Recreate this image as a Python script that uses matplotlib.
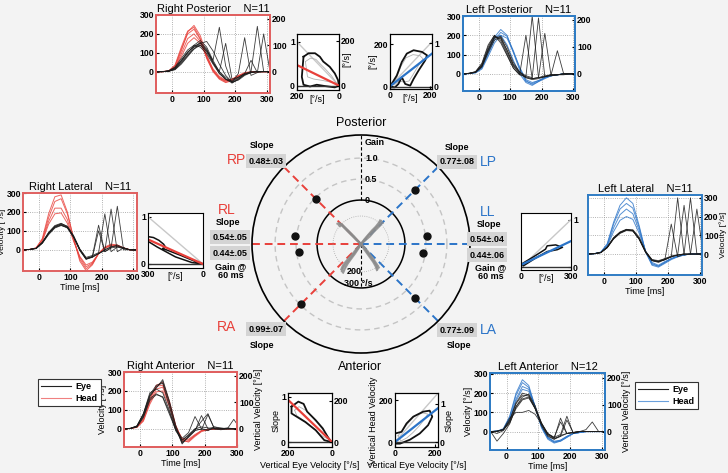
import numpy as np
import matplotlib.pyplot as plt
from matplotlib.lines import Line2D
import matplotlib.transforms as mtrans

W, H = 728, 473
plt.rcParams['font.family'] = ['Liberation Sans', 'DejaVu Sans']
plt.rcParams['font.size'] = 6.5
plt.rcParams['font.weight'] = 'bold'

RED = '#e8403a'
BLUE = '#2b74c8'
RFRAME = '#e06060'
BFRAME = '#2f7cc4'

# time axis of the velocity traces [ms]
t_ms = [-50, -30, -10, 10, 30, 50, 70, 90, 110, 130, 150, 170, 190, 210, 230, 250, 270, 290, 310]

rp_head = [
    [0, 0, 2, 25, 110, 210, 245, 190, 90, 10, -35, -55, -45, -25, -10, -3, 0, 0, 0],
    [0, 0, 3, 30, 120, 200, 225, 170, 80, 5, -35, -50, -40, -22, -8, -2, 0, 0, 0],
    [0, 0, 2, 20, 95, 175, 200, 160, 75, 5, -30, -48, -42, -25, -10, -3, 0, 0, 0],
    [0, 1, 4, 35, 130, 215, 235, 175, 70, 0, -40, -58, -48, -28, -10, -3, 0, 0, 0],
    [0, 0, 2, 20, 80, 150, 180, 150, 80, 15, -25, -45, -40, -20, -5, 0, 0, 0, 0],
]
rp_eye = [
    [0, 0, 3, 15, 55, 100, 140, 165, 130, 60, 0, -40, -60, -40, -15, -5, 0, 0, 0],
    [0, 0, 2, 10, 40, 80, 120, 150, 160, 110, 40, -20, -55, -45, -20, -5, 0, 0, 0],
    [0, 0, 5, 25, 70, 115, 140, 130, 95, 40, -10, -40, -50, -30, -10, 0, 0, 0, 0],
    [0, 0, 3, 15, 50, 90, 120, 140, 110, 60, 235, 30, -60, -40, -15, -5, 0, 0, 0],
    [0, 0, 2, 12, 45, 85, 130, 155, 120, 50, -10, -40, -55, -35, -15, 0, 240, 0, 0],
    [0, 0, 4, 20, 60, 100, 135, 150, 115, 50, 0, -30, -55, -10, 180, -20, -5, 0, 0],
    [0, 0, 3, 20, 60, 105, 130, 140, 105, 45, 0, 150, -40, -30, -10, 60, -5, 200, 0],
]
lp_head = [
    [0, 2, 8, 35, 110, 190, 230, 200, 110, 20, -40, -50, -35, -20, -10, -5, 0, 0, 0],
    [0, 2, 6, 30, 100, 175, 215, 195, 120, 30, -35, -55, -40, -20, -10, -5, 0, 0, 0],
    [0, 2, 8, 40, 120, 190, 200, 150, 70, 0, -45, -60, -40, -25, -10, -5, 0, 0, 0],
    [0, 1, 5, 25, 90, 160, 200, 185, 115, 35, -30, -45, -35, -20, -10, -5, 0, 0, 0],
]
lp_eye = [
    [0, 3, 10, 45, 130, 195, 180, 110, 40, 0, -20, -30, -25, -15, -10, -5, -5, 0, 0],
    [0, 2, 8, 40, 120, 185, 195, 140, 60, 10, -20, -25, -20, -15, -5, -5, 0, 0, 0],
    [0, 3, 10, 50, 140, 200, 170, 100, 30, -5, -15, 300, -20, -10, -5, -5, 0, 0, 0],
    [0, 2, 8, 35, 110, 175, 190, 120, 50, 10, -10, -20, 290, -15, -5, -5, 0, 0, 0],
    [0, 3, 12, 55, 150, 200, 160, 95, 30, -5, 200, -25, -20, -15, -5, 120, 0, 0, 0],
    [0, 2, 8, 40, 125, 190, 185, 125, 45, 5, -15, -25, -20, 210, -10, -5, 0, 0, 0],
]
rl_head = [
    [0, 2, 10, 60, 190, 280, 290, 200, 60, -60, -110, -80, -20, 15, 30, 25, 10, 0, 0],
    [0, 2, 10, 55, 170, 255, 270, 190, 60, -50, -100, -75, -20, 10, 25, 25, 10, 0, 0],
    [0, 2, 8, 50, 150, 220, 220, 160, 50, -40, -90, -70, -20, 10, 25, 20, 10, 0, 0],
    [0, 2, 8, 45, 135, 190, 195, 140, 45, -35, -80, -65, -20, 10, 20, 20, 10, 0, 0],
]
rl_eye = [
    [0, 2, 8, 40, 90, 125, 135, 120, 70, 0, -45, -40, -20, 0, 15, 20, 10, 0, 0],
    [0, 2, 8, 35, 85, 120, 130, 115, 65, -5, -50, -35, 130, -10, 10, 15, 10, 0, 0],
    [0, 2, 8, 38, 88, 122, 138, 125, 75, 5, -40, -30, -15, 190, -10, 15, 5, 0, 0],
    [0, 2, 6, 35, 80, 115, 128, 118, 70, 0, -45, -35, -20, -5, 215, -10, 10, 0, 0],
    [0, 2, 8, 40, 92, 128, 140, 122, 70, 0, -50, -40, 100, -10, 10, 230, 0, 0, 0],
    [0, 2, 7, 36, 85, 118, 132, 118, 68, 0, -48, -38, -20, 0, 15, 25, 10, 0, -5],
]
ll_head = [
    [0, 2, 10, 55, 170, 260, 300, 270, 150, 10, -60, -70, -50, -30, -15, -5, 0, 0, 0],
    [0, 2, 10, 50, 160, 240, 270, 245, 140, 10, -55, -65, -45, -25, -15, -5, 0, 0, 0],
    [0, 2, 8, 45, 140, 210, 240, 215, 125, 15, -50, -65, -45, -25, -10, -5, 0, 0, 0],
    [0, 2, 8, 40, 120, 180, 200, 185, 110, 15, -45, -60, -40, -25, -10, -5, 0, 0, 0],
]
ll_eye = [
    [0, 2, 8, 35, 85, 115, 130, 125, 80, 10, -35, -40, -30, -15, -5, 0, 0, 0, 0],
    [0, 2, 8, 35, 82, 112, 128, 130, 90, 15, -30, -40, -30, 160, -15, 0, 0, 0, 0],
    [0, 2, 8, 38, 88, 118, 132, 125, 78, 8, -35, -40, -30, -15, 300, -5, 0, 0, 0],
    [0, 2, 7, 33, 80, 110, 125, 122, 80, 10, -35, -45, -30, -15, -5, 260, 0, 0, 0],
    [0, 2, 8, 36, 85, 115, 130, 126, 82, 10, -35, -40, -25, -15, -5, 0, 300, 0, 0],
    [0, 2, 8, 34, 84, 114, 129, 124, 80, 12, -30, -35, -25, -10, -5, 0, 0, 240, 0],
]
ra_head = [
    [0, 2, 10, 50, 150, 230, 245, 150, 20, -60, -70, -40, -15, -5, 0, 0, 0, 0, 0],
    [0, 2, 10, 55, 160, 225, 230, 140, 15, -65, -65, -35, -10, -5, 0, 0, 0, 0, 0],
    [0, 2, 8, 45, 140, 210, 220, 130, 10, -55, -60, -35, -10, -5, 0, 0, 0, 0, 0],
    [0, 2, 8, 40, 130, 195, 200, 120, 10, -50, -55, -30, -10, -5, 0, 0, 0, 0, 0],
]
ra_eye = [
    [0, 2, 15, 80, 180, 230, 240, 120, 0, -75, -40, 0, 10, 5, 0, 0, 0, 0, 0],
    [0, 2, 12, 70, 170, 220, 250, 140, 10, -80, -40, -10, 70, 0, 10, 0, 0, 0, 0],
    [0, 3, 15, 80, 190, 210, 190, 100, -10, -60, -30, 0, -5, 75, 0, 0, 5, 0, 0],
    [0, 2, 10, 60, 150, 180, 170, 90, 0, -50, -20, 65, 0, -5, 0, 0, 0, 50, 0],
    [0, 2, 15, 75, 175, 215, 260, 150, 20, -70, -45, -10, 0, -10, 10, 5, 0, 0, 0],
    [0, 2, 10, 65, 160, 185, 165, 80, -5, -60, -35, -5, 40, 80, 0, -5, 0, 0, 0],
]
la_head = [
    [0, 2, 15, 80, 200, 270, 240, 130, 20, -40, -60, -50, -30, -10, -5, 0, 0, 0, 0],
    [0, 2, 12, 75, 190, 255, 230, 130, 25, -35, -55, -45, -25, -10, -5, 0, 0, 0, 0],
    [0, 2, 10, 65, 170, 235, 220, 130, 30, -30, -55, -50, -30, -10, -5, 0, 0, 0, 0],
    [0, 2, 10, 60, 160, 220, 210, 125, 30, -30, -50, -45, -25, -10, -5, 0, 0, 0, 0],
]
la_eye = [
    [0, -10, 5, 60, 150, 200, 190, 120, 30, -25, -40, -20, -10, -5, 0, 0, 0, 0, 0],
    [0, -50, -10, 40, 130, 180, 195, 135, 45, -15, -35, 70, -10, -5, 0, 0, 0, 0, 0],
    [0, 0, 10, 50, 130, 170, 180, 120, 40, -15, -30, -15, 80, -10, 0, 0, 0, 0, 0],
    [0, 2, 8, 45, 120, 165, 175, 120, 45, -10, -30, 50, -10, -5, 0, 10, 50, 0, 0],
    [0, 2, 12, 70, 100, 100, 110, 90, 40, -10, -35, -25, -10, -5, 0, 0, 0, 0, 0],
    [0, 2, 10, 55, 145, 190, 185, 125, 40, -20, -40, -25, 60, -5, 0, 0, 0, 0, 0],
]

# eye-head contour panels (x: eye velocity)
rp_cx = [169, 145, 114, 91, 75, 44, 20, 5, 0, 20, 67, 106, 138, 169, 177, 173, 169]
rp_cy = [0.66, 0.74, 0.74, 0.66, 0.55, 0.43, 0.28, 0.13, 0, -0.04, -0.01, 0.02, -0.02, 0.02, 0.2, 0.43, 0.66]
rp_gx = [160, 135, 110, 90, 65, 35, 12, 40, 80, 120, 150, 160]
rp_gy = [0.55, 0.63, 0.6, 0.5, 0.38, 0.22, 0.06, 0.08, 0.12, 0.15, 0.2, 0.55]
rp_fit = [0.47, 0.0]
lp_cx = [8, 34, 59, 84, 118, 160, 185, 176, 143, 118, 101, 76, 59, 42, 25, 3, 8]
lp_cy = [11, 51, 115, 155, 171, 163, 147, 123, 75, 35, 3, 11, 43, 11, -5, -5, 11]
lp_gx = [15, 35, 55, 80, 115, 150, 165, 140, 115, 95, 70, 45, 20, 15]
lp_gy = [10, 45, 95, 135, 150, 145, 130, 95, 55, 25, 20, 25, 5, 10]
lp_fit = [0, 155]
rl_cx = [300, 270, 240, 215, 205, 220, 200, 120, 40, 0, 60, 150, 250, 300, 300]
rl_cy = [0.58, 0.56, 0.50, 0.42, 0.36, 0.33, 0.30, 0.18, 0.05, 0, 0.03, 0.15, 0.36, 0.48, 0.58]
rl_fit = [0.52, 0.0]
ll_cx = [4, 75, 147, 157, 208, 249, 218, 157, 86, 14, 4]
ll_cy = [0.07, 0.22, 0.38, 0.45, 0.47, 0.42, 0.37, 0.33, 0.19, 0.03, 0.07]
ll_fit = [0.05, 0.55]
ra_cx = [184, 153, 129, 113, 74, 42, 19, 3, 35, 74, 121, 161, 184, 184]
ra_cy = [0.78, 0.89, 0.84, 0.67, 0.48, 0.30, 0.11, 0, 0.04, 0.26, 0.44, 0.56, 0.63, 0.78]
ra_gx = [170, 150, 120, 90, 60, 30, 10, 40, 80, 120, 160, 170]
ra_gy = [0.7, 0.78, 0.7, 0.55, 0.38, 0.2, 0.05, 0.12, 0.28, 0.45, 0.58, 0.7]
ra_fit = [0.93, 0.0]
la_cx = [0, 33, 58, 92, 142, 175, 188, 167, 125, 75, 25, 0, 0]
la_cy = [41, 49, 89, 122, 146, 151, 122, 81, 41, 11, -8, -8, 41]
la_gx = [15, 40, 70, 100, 140, 165, 150, 120, 90, 60, 30, 15]
la_gy = [30, 60, 95, 125, 140, 135, 110, 75, 45, 20, 5, 30]
la_fit = [0, 163]

# polar summary: slopes per canal direction
canal_ang = [135, 45, 173, 187, 7, 352, 225, 315]
canal_gain = [0.48, 0.77, 0.54, 0.44, 0.54, 0.44, 0.99, 0.77]

# head velocity trajectories in the centre [deg/s]
traj_x = [
    [0, -30, -65, -100, -130, -150, -160, -175], [0, -35, -70, -105, -135, -160, -170, -185],
    [0, -25, -55, -90, -120, -140, -150, -165], [0, 30, 60, 95, 125, 145, 150, 160],
    [0, 35, 70, 100, 130, 150, 160, 170], [0, 25, 55, 85, 115, 135, 145, 150],
    [0, -25, -55, -85, -115, -140, -150], [0, -30, -60, -95, -125, -145, -155],
    [0, -20, -50, -80, -105, -125, -140], [0, 25, 50, 75, 100, 120, 130],
    [0, 20, 45, 70, 95, 115, 125], [0, 30, 55, 80, 105, 125, 140],
]
traj_y = [
    [0, 30, 65, 100, 130, 150, 160, 150], [0, 30, 65, 100, 130, 155, 165, 160],
    [0, 25, 60, 95, 125, 145, 155, 140], [0, 35, 70, 105, 135, 155, 170, 180],
    [0, 30, 60, 95, 125, 145, 160, 165], [0, 35, 70, 105, 135, 160, 175, 185],
    [0, -35, -75, -115, -150, -185, -215], [0, -30, -70, -110, -145, -175, -200],
    [0, -35, -80, -120, -155, -190, -225], [0, -30, -65, -100, -135, -165, -195],
    [0, -35, -70, -105, -140, -175, -205], [0, -30, -60, -95, -130, -160, -185],
]

fig = plt.figure(figsize=(W / 100, H / 100), dpi=100)
fig.patch.set_facecolor('#f3f3f3')


def box(x0, y0, x1, y1, **kw):
    return fig.add_axes([x0 / W, 1 - y1 / H, (x1 - x0) / W, (y1 - y0) / H], **kw)


def ftext(x, y, s, **kw):
    kw.setdefault('ha', 'center')
    kw.setdefault('va', 'center')
    fig.text(x / W, 1 - y / H, s, **kw)


def style(ax, lw=0.8, color='k'):
    ax.tick_params(direction='in', length=2, labelsize=6.2, pad=1.5)
    for s in ax.spines.values():
        s.set_linewidth(lw)
        s.set_color(color)


def time_panel(rect, head, eye, hcol, fcol, title, ylim, xlim=(-50, 300), side='both',
               ylabel=None, rlabel=None, xlabel=False):
    ax = box(*rect)
    ax.set_facecolor('white')
    for tr in head:
        ax.plot(t_ms, tr, color=hcol, lw=0.7, alpha=0.8)
    for tr in eye:
        ax.plot(t_ms, tr, color='#1a1a1a', lw=0.6, alpha=0.85)
    ax.set_xlim(*xlim)
    ax.set_ylim(*ylim)
    ax.set_xticks([0, 100, 200, 300])
    ax.set_yticks([0, 100, 200, 300])
    ax.grid(True, ls=':', lw=0.6, color='#999999')
    style(ax, 1.4, fcol)
    ax.set_title(title, fontsize=8, fontweight='normal', pad=2)
    if side == 'right':
        ax.yaxis.tick_right()
        ax.yaxis.set_label_position('right')
    if ylabel:
        ax.set_ylabel(ylabel, labelpad=0)
    if xlabel:
        ax.set_xlabel('Time [ms]', labelpad=1)
    if side == 'both':
        tw = ax.twinx()
        tw.set_ylim(ylim[0] * 0.715, ylim[1] * 0.715)
        tw.set_yticks([0, 100, 200])
        style(tw, 1.4, fcol)
        if rlabel:
            tw.set_ylabel(rlabel, labelpad=0)
    return ax


time_panel((156, 15, 270, 93), rp_head, rp_eye, RED, RFRAME, 'Right Posterior    N=11', (-113, 300),
           xlim=(-50, 310))
time_panel((463, 16, 575, 91), lp_head, lp_eye, BLUE, BFRAME, 'Left Posterior    N=11', (-89, 300),
           xlim=(-50, 306))
ax = time_panel((23, 193, 137, 271), rl_head, rl_eye, RED, RFRAME, 'Right Lateral    N=11', (-112, 300),
                xlim=(-52, 313), side='left', ylabel='Velocity [°/s]', xlabel=True)
ax.yaxis.label.set_fontsize(6)
ax.yaxis.set_label_coords(-0.145, 0.5)
ax = time_panel((588, 195, 702, 275), ll_head, ll_eye, BLUE, BFRAME, 'Left Lateral    N=11', (-112, 315),
                xlim=(-50, 306), side='right', ylabel='Velocity [°/s]', xlabel=True)
ax.yaxis.label.set_fontsize(6)
ax.yaxis.set_label_coords(1.155, 0.5)
time_panel((124, 372, 237, 447), ra_head, ra_eye, RED, RFRAME, 'Right Anterior    N=11', (-96, 300),
           ylabel='Velocity [°/s]', rlabel='Vertical Velocity [°/s]', xlabel=True)
time_panel((490, 373, 605, 450), la_head, la_eye, BLUE, BFRAME, 'Left Anterior    N=12', (-96, 305),
           xlim=(-52, 310), ylabel='Velocity [°/s]', rlabel='Vertical Velocity [°/s]', xlabel=True)


def small_panel(rect, xlim, ylim, xt, yt, ylabels=None):
    ax = box(*rect)
    ax.set_facecolor('white')
    ax.set_xlim(*xlim)
    ax.set_ylim(*ylim)
    ax.set_xticks(xt)
    ax.set_yticks(yt)
    if ylabels:
        ax.set_yticklabels(ylabels)
    style(ax)
    return ax


# Right posterior: eye vs head
ax = small_panel((297, 34, 339, 90), (200, 0), (-0.1, 1.18), [200, 0], [0, 1], ['0', '1'])
ax.plot([200, 0], [1, 0], color='#c8c8c8', lw=1)
ax.plot(rp_gx, rp_gy, color='#b0b0b0', lw=0.6)
ax.plot(rp_cx, rp_cy, color='#111111', lw=1.3)
ax.axhline(0, color='#333333', lw=1)
ax.plot([200, 0], rp_fit, color=RED, lw=1.6)
ax.set_xlabel('[°/s]')
ax.xaxis.set_label_coords(0.47, -0.09)
tw = ax.twinx()
tw.set_ylim(-19.5, 230)
tw.set_yticks([0, 200])
style(tw)
tw.set_ylabel('[°/s]')
tw.yaxis.set_label_coords(1.08, 0.55)

# Left posterior
ax = small_panel((390, 34, 432, 89), (0, 210), (-13, 248), [0, 200], [0, 200])
ax.plot([0, 210], [0, 211], color='#c8c8c8', lw=1)
ax.plot(lp_gx, lp_gy, color='#b0b0b0', lw=0.6)
ax.plot(lp_cx, lp_cy, color='#111111', lw=1.3)
ax.axhline(-4, color='#333333', lw=1)
ax.plot([0, 210], lp_fit, color=BLUE, lw=1.6)
ax.set_xlabel('[°/s]')
ax.xaxis.set_label_coords(0.47, -0.09)
ax.set_ylabel('[°/s]')
ax.yaxis.set_label_coords(-0.3, 0.5)
tw = ax.twinx()
tw.set_ylim(-0.055, 1.22)
tw.set_yticks([0, 1])
tw.set_yticklabels(['0', '1'])
style(tw)

# Right lateral
ax = small_panel((148, 213, 203, 268), (300, 0), (-0.085, 1.08), [300, 0], [0, 1], ['0', '1'])
ax.plot([300, 0], [1, 0], color='#c8c8c8', lw=1)
ax.plot(rl_cx, rl_cy, color='#111111', lw=1.1)
ax.axhline(0, color='#333333', lw=1)
ax.plot([300, 0], rl_fit, color=RED, lw=1.6)
ax.set_xlabel('[°/s]')
ax.xaxis.set_label_coords(0.5, -0.07)

# Left lateral
ax = small_panel((521, 213, 571, 270), (0, 300), (-0.057, 1.14), [0, 300], [0, 1], ['0', '1'])
ax.yaxis.tick_right()
ax.plot([0, 300], [0, 1], color='#c8c8c8', lw=1)
ax.plot(ll_cx, ll_cy, color='#111111', lw=1.1)
ax.axhline(0.01, color='#333333', lw=1)
ax.plot([0, 300], ll_fit, color=BLUE, lw=1.6)
ax.set_xlabel('[°/s]')
ax.xaxis.set_label_coords(0.5, -0.07)

# Right anterior
ax = small_panel((288, 393, 332, 447), (200, 0), (-0.11, 1.08), [200, 0], [0, 1], ['0', '1'])
ax.plot(ra_gx, ra_gy, color='#b0b0b0', lw=0.6)
ax.plot(ra_cx, ra_cy, color='#111111', lw=1.3)
ax.axhline(0, color='#333333', lw=1)
ax.plot([200, 0], ra_fit, color=RED, lw=1.6)
ax.set_xlabel('Vertical Eye Velocity [°/s]', labelpad=2)
ax.set_ylabel('Slope', labelpad=0)
tw = ax.twinx()
tw.set_ylim(-24, 237)
tw.set_yticks([0, 200])
style(tw)

# Left anterior
ax = small_panel((395, 393, 438, 447), (0, 217), (-24, 236), [0, 200], [0, 200])
ax.plot([0, 217], [0, 235], color='#c8c8c8', lw=1)
ax.plot(la_gx, la_gy, color='#b0b0b0', lw=0.6)
ax.plot(la_cx, la_cy, color='#111111', lw=1.3)
ax.axhline(0, color='#333333', lw=1)
ax.plot([0, 217], la_fit, color=BLUE, lw=1.6)
ax.set_xlabel('Vertical Eye Velocity [°/s]', labelpad=2)
ax.set_ylabel('Vertical Head Velocity', labelpad=0)
tw = ax.twinx()
tw.set_ylim(-0.13, 1.28)
tw.set_yticks([0, 1])
tw.set_yticklabels(['0', '1'])
style(tw)
tw.set_ylabel('Slope', labelpad=0)

# polar summary
R0 = 44 / 42
pax = box(252, 135, 470, 353, projection='polar')
pax.set_facecolor('none')
pax.set_rlim(-R0, 1.55)
pax.set_xticks([])
pax.set_yticks([])
pax.spines['polar'].set_linewidth(1.2)
ring = np.linspace(0, 2 * np.pi, 361)
pax.plot(ring, np.zeros_like(ring), color='k', lw=1.1)
for g in [0.5, 1.0]:
    pax.plot(ring, np.full_like(ring, g), color='#c4c4c4', lw=1, ls=(0, (4, 3)))
for a, c in [(135, RED), (180, RED), (225, RED), (45, BLUE), (0, BLUE), (315, BLUE)]:
    pax.plot([np.radians(a)] * 2, [-R0, 1.55], color=c, lw=1.4, ls=(0, (4, 2.5)))
pax.plot([np.pi / 2] * 2, [0, 1.55], color='k', lw=0.8, ls=(0, (3, 2)))
pax.plot([3 * np.pi / 2] * 2, [-R0, 0], color='k', lw=0.8, ls=(0, (3, 2)))
pax.plot(np.radians(canal_ang), canal_gain, 'o', color='#111111', ms=5)
off = mtrans.offset_copy(pax.transData, fig=fig, x=4, y=0, units='dots')
for g, s in [(0, '0'), (0.5, '0.5'), (1.0, '1.0'), (1.36, 'Gain')]:
    pax.text(np.pi / 2, g, s, transform=off, ha='left', va='center', fontsize=6.5)

vax = box(317, 200, 405, 288)
vax.set_xlim(-346, 346)
vax.set_ylim(-346, 346)
vax.axis('off')
for v in [220]:
    vax.plot(v * np.cos(ring), v * np.sin(ring), color='#aaaaaa', lw=0.6, ls=':')
for xs, ys in zip(traj_x, traj_y):
    vax.plot(xs, ys, color='#8a8a8a', lw=1.5, alpha=0.85)
vax.text(-55, -215, '200', ha='center', va='center', fontsize=6.5)
vax.text(-25, -310, '300 °/s', ha='center', va='center', fontsize=6.5)

ftext(361, 123, 'Posterior', fontsize=9, fontweight='normal')
ftext(360, 367, 'Anterior', fontsize=9, fontweight='normal')

gbox = dict(facecolor='#d4d4d4', edgecolor='none', pad=1.6)
ftext(262, 145, 'Slope')
ftext(266, 161, '0.48±.03', bbox=gbox)
ftext(237, 160, 'RP', color=RED, fontsize=10, fontweight='normal')
ftext(457, 147, 'Slope')
ftext(457, 162, '0.77±.08', bbox=gbox)
ftext(488, 162, 'LP', color=BLUE, fontsize=10, fontweight='normal')
ftext(227, 210, 'RL', color=RED, fontsize=10, fontweight='normal')
ftext(228, 222, 'Slope')
ftext(230, 237, '0.54±.05', bbox=gbox)
ftext(230, 253, '0.44±.05', bbox=gbox)
ftext(231, 271, 'Gain @\n60 ms', linespacing=1.1)
ftext(488, 212, 'LL', color=BLUE, fontsize=10, fontweight='normal')
ftext(489, 224, 'Slope')
ftext(487, 239, '0.54±.04', bbox=gbox)
ftext(487, 255, '0.44±.06', bbox=gbox)
ftext(491, 272, 'Gain @\n60 ms', linespacing=1.1)
ftext(266, 329, '0.99±.07', bbox=gbox)
ftext(226, 327, 'RA', color=RED, fontsize=10, fontweight='normal')
ftext(262, 345, 'Slope')
ftext(457, 330, '0.77±.09', bbox=gbox)
ftext(488, 330, 'LA', color=BLUE, fontsize=10, fontweight='normal')
ftext(459, 346, 'Slope')

legkw = dict(loc='upper left', frameon=True, fancybox=False, edgecolor='#333333', fontsize=6.5,
             handlelength=3.3, handletextpad=0.5, borderpad=0.35, labelspacing=0.3, framealpha=1,
             borderaxespad=0)
leg = fig.legend([Line2D([], [], color='#222222', lw=0.8), Line2D([], [], color='#f08080', lw=0.8)],
                 ['Eye', 'Head'], bbox_to_anchor=(38 / W, 1 - 379 / H), **legkw)
leg.get_frame().set_linewidth(0.8)
leg = fig.legend([Line2D([], [], color='#222222', lw=0.8), Line2D([], [], color='#6aa0dc', lw=0.8)],
                 ['Eye', 'Head'], bbox_to_anchor=(635 / W, 1 - 382 / H), **legkw)
leg.get_frame().set_linewidth(0.8)

fig.savefig('out.png', dpi=100, facecolor=fig.get_facecolor())
